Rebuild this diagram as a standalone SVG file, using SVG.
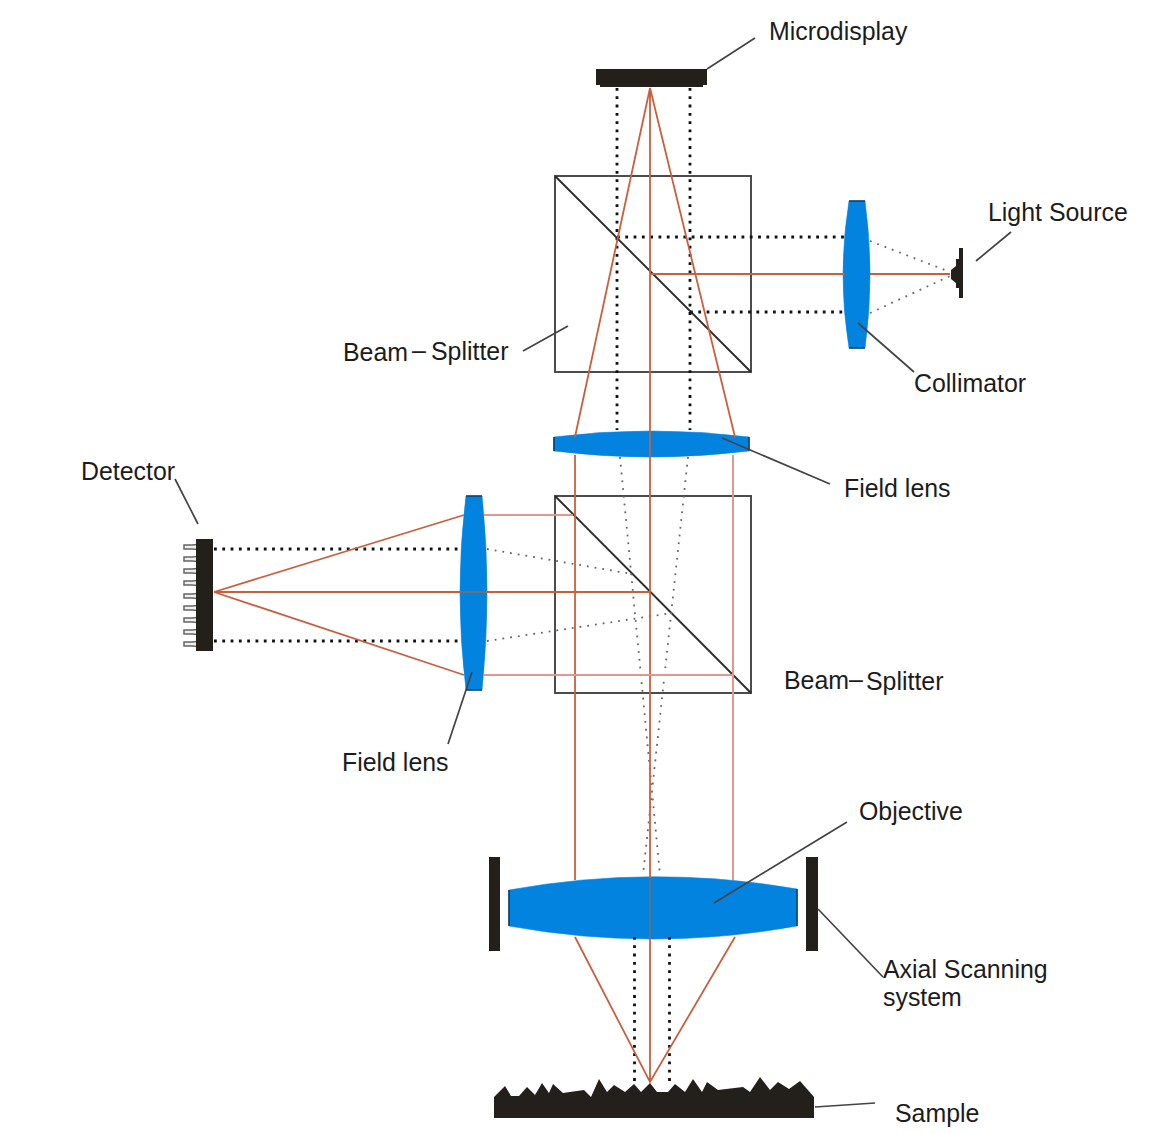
<svg xmlns="http://www.w3.org/2000/svg" width="1169" height="1134" viewBox="0 0 1169 1134">
<style>
.bg{fill:#fff}
.lens{fill:#0383e0;stroke:#0383e0;stroke-width:.6}
.cap{stroke:#0b3f66;stroke-width:1.6;fill:none}
.dark{fill:#231f1a}
.cube{fill:none;stroke:#444;stroke-width:1.9}
.diag{fill:none;stroke:#2c2c2c;stroke-width:1.9}
.ray{fill:none;stroke:#c8603e;stroke-width:1.8}
.rayl{fill:none;stroke:#dc9a8a;stroke-width:2}
.rayg{fill:none;stroke:#6b6f78;stroke-width:1.8}
.dot{fill:none;stroke:#111;stroke-width:2.8;stroke-dasharray:2.8 5.5}
.gdot{fill:none;stroke:#666;stroke-width:1.8;stroke-dasharray:1.8 6}
.lead{fill:none;stroke:#444;stroke-width:1.7}
.pin{fill:#eee;stroke:#666;stroke-width:1.5}
text{font-family:"Liberation Sans",Arial,sans-serif;font-size:24.9px;fill:#1c1c1c}
</style>
<rect class="bg" width="1169" height="1134"/>
<g id="beam-splitter-top">
<rect class="cube" x="555" y="176" width="196" height="196"/>
<path class="diag" d="M555,176L751,372"/>
<text x="343" y="361">Beam</text><text x="412" y="359">–</text><text x="431" y="360">Splitter</text>
</g>
<g id="beam-splitter-bottom">
<rect class="cube" x="555" y="496" width="196" height="197"/>
<path class="diag" d="M555,496L751,693"/>
<text x="784" y="689">Beam</text><text x="849" y="688">–</text><text x="866" y="690">Splitter</text>
</g>
<g id="collimator">
<path class="lens" d="M849,201H865Q875,274 865,348H849Q837,274 849,201Z"/>
<path class="cap" d="M849,201H865M849,348H865"/>
<text x="914" y="392">Collimator</text>
</g>
<g id="field-lens-top">
<path class="lens" d="M554,437Q651,425 749,437V451Q651,463 554,451Z"/>
<path class="cap" d="M554,437V451M749,437V451"/>
<text x="844" y="497">Field lens</text>
</g>
<g id="field-lens-left">
<path class="lens" d="M466,496H482Q492,592 482,690H466Q454,592 466,496Z"/>
<path class="cap" d="M466,496H482M466,690H482"/>
<text x="342" y="771">Field lens</text>
</g>
<g id="objective">
<path class="lens" d="M509,890Q653,864 797,889V926Q653,952 509,926Z"/>
<path class="cap" d="M509,890V926M797,889V926"/>
<text x="859" y="820">Objective</text>
</g>
<g id="axial-scanning-system">
<rect class="dark" x="489" y="857" width="11" height="94"/>
<rect class="dark" x="806" y="857" width="12" height="94"/>
<text x="883" y="978">Axial Scanning</text>
<text x="883" y="1006">system</text>
</g>
<g id="connectors">
<path class="dot" d="M617,88V430M690,88V430M617,237H845M690,312H845M214,549H462M214,641H458M634.5,937V1085M669.5,937V1085"/>
<path class="gdot" d="M870,241L950,272M870,313L950,276M620,457L660,875M688,457L643,875M487,549L632,574M487,641L672,613"/>
<path class="ray" d="M650,88V878M650,939V1082M650,88L575,437M650,88L735,437M650,274H845M870,274H950M214,592L464,515M214,592L464,675M214,592H460M486,592H650M575,455V880M575,937L650,1082L735,937"/>
<path class="rayl" d="M733,455V880M484,515H573M484,675H733"/>
<path class="rayg" d="M650,878V939M460,592H486"/>
<path class="lead" d="M707,69L755,38M976,261L1011,232M858,323L914,372M722,438L830,484M523,351L568,326M175,479L198,524M472,672L448,744M714,903L847,822M818,909L883,977M815,1107L875,1103"/>
</g>
<g id="microdisplay">
<path class="dark" d="M596,69H707V85H703V87H600V85H596Z"/>
<text x="769" y="40">Microdisplay</text>
</g>
<g id="light-source">
<path class="dark" d="M959,248H963V298H959V288H956V283L951,279V270L956,266V259H959Z"/>
<text x="988" y="221">Light Source</text>
</g>
<g id="detector">
<path class="pin" d="M184,545H192L202,544V550L192,549H184ZM184,557H192L202,556V562L192,561H184ZM184,569H192L202,568V574L192,573H184ZM184,581H192L202,580V586L192,585H184ZM184,594H192L202,593V599L192,598H184ZM184,606H192L202,605V611L192,610H184ZM184,618H192L202,617V623L192,622H184ZM184,630H192L202,629V635L192,634H184ZM184,642H192L202,641V647L192,646H184Z"/>
<rect class="dark" x="196" y="539" width="17" height="112"/>
<text x="81" y="480">Detector</text>
</g>
<g id="sample">
<path class="dark" d="M494,1097L505,1086L511,1096L519,1096L527,1087L535,1095L542,1083L549,1093L553,1084L563,1093L584,1090L591,1097L599,1079L607,1092L614,1085L625,1092L634,1084L641,1092L650,1083L657,1092L668,1092L675,1084L685,1092L693,1079L702,1092L707,1082L718,1090L743,1087L750,1092L760,1077L770,1090L778,1082L789,1089L800,1081L814,1097V1118H494Z"/>
<text x="895" y="1122">Sample</text>
</g>
</svg>
